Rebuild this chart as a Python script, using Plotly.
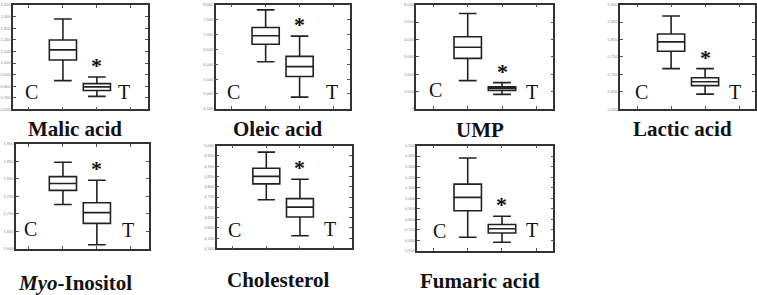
import plotly.graph_objects as go

W, H = 757, 295

# ---- data (box summary statistics, arbitrary relative units) ----
names = ["Malic acid", "Oleic acid", "UMP", "Lactic acid",
         "<i>Myo</i>-Inositol", "Cholesterol", "Fumaric acid"]
# [lower whisker, Q1, median, Q3, upper whisker]
ctrl = [
    [0.848, 1.026, 1.113, 1.198, 1.379],
    [6.085, 6.669, 6.956, 7.231, 7.825],
    [1625, 2910, 3550, 4155, 5491],
    [0.7163, 0.7661, 0.7931, 0.8156, 0.8674],
    [1.7267, 1.7669, 1.7865, 1.8062, 1.8475],
    [4.737, 4.814, 4.850, 4.890, 4.968],
    [0.630, 0.882, 1.009, 1.134, 1.382],
]
treat = [
    [0.713, 0.763, 0.795, 0.823, 0.879],
    [4.896, 5.589, 5.919, 6.263, 6.943],
    [833, 1059, 1173, 1269, 1512],
    [0.6432, 0.6677, 0.6789, 0.6902, 0.7163],
    [1.6115, 1.6725, 1.7034, 1.7315, 1.7961],
    [4.562, 4.653, 4.701, 4.742, 4.836],
    [0.583, 0.671, 0.711, 0.751, 0.829],
]
group_labels = ["C", "T"]
y_ranges = [(0.6, 1.5), (4.5, 8.0), (0, 6000), (0.60, 0.90),
            (1.60, 1.90), (4.50, 5.00), (0.5, 1.5)]
y_dticks = [0.1, 0.5, 1000, 0.05, 0.05, 0.05, 0.1]
y_formats = [".3f", ".3f", ",d", ".3f", ".3f", ".3f", ".3f"]

# ---- layout geometry (pixels) ----
frames = [  # left, right, top, bottom
    (12, 147, 2, 108.3), (215, 349, 1.7, 107.7), (416, 553, 1.7, 107.7),
    (620, 755, 1.7, 108), (15, 148, 143.3, 250), (216, 351, 145, 249.7),
    (417, 553, 145, 252.3)]
xticks_px = [(28, 130), (231, 333), (433, 536), (637, 739),
             (28, 130), (232, 333), (433, 536)]
c_pos = [(31, 91), (233, 91), (435, 89), (641, 91), (30, 230), (234, 231), (439, 232)]
t_pos = [(123, 91), (331, 91), (532, 91), (735, 91), (127, 231), (329, 230), (532, 231)]
title_pos = [(74, 128), (277, 128), (480, 129), (682, 128), (74, 285), (277, 282), (480, 283)]

fig = go.Figure()
LINE = "#222222"
annotations = []
for i in range(7):
    ax = "" if i == 0 else str(i + 1)
    xref, yref = "x" + ax, "y" + ax
    for j, st in enumerate([ctrl[i], treat[i]]):
        fig.add_trace(go.Box(
            x=[j + 1], lowerfence=[st[0]], q1=[st[1]], median=[st[2]],
            q3=[st[3]], upperfence=[st[4]], xaxis=xref, yaxis=yref,
            width=0.8, whiskerwidth=0.65, fillcolor="white",
            line=dict(color=LINE, width=1.6), showlegend=False,
            hoverinfo="skip"))
    L, R, T, B = frames[i]
    t0, t3 = xticks_px[i]
    unit = (t3 - t0) / 3
    xr = [(L - t0) / unit, (R - t0) / unit]
    axis_common = dict(showline=True, linecolor="#333333", linewidth=1.5,
                       mirror="ticks", ticks="inside", ticklen=3,
                       tickcolor="#555555", showgrid=False, zeroline=False)
    fig.layout["xaxis" + ax] = dict(domain=[L / W, R / W], range=xr,
                                    tickvals=[0, 1, 2, 3], showticklabels=False,
                                    anchor=yref, **axis_common)
    fig.layout["yaxis" + ax] = dict(domain=[1 - B / H, 1 - T / H], range=list(y_ranges[i]),
                                    dtick=y_dticks[i], tick0=y_ranges[i][0],
                                    tickformat=y_formats[i], anchor=xref,
                                    tickfont=dict(size=4, color="#8a8a8a", family="Arial"),
                                    **axis_common)
    for (px, py), lab in zip([c_pos[i], t_pos[i]], group_labels):
        annotations.append(dict(text=lab, x=px / W, y=1 - py / H, xref="paper", yref="paper",
                                xanchor="center", yanchor="middle", showarrow=False,
                                font=dict(family="Liberation Serif", size=20, color="#111")))
    annotations.append(dict(text="<b>*</b>", x=2, y=treat[i][4], xref=xref, yref=yref,
                            xanchor="center", yanchor="bottom", showarrow=False, yshift=-3,
                            font=dict(family="Liberation Serif", size=22, color="#111")))
    tx, ty = title_pos[i]
    annotations.append(dict(text="<b>" + names[i] + "</b>", x=tx / W, y=1 - ty / H,
                            xref="paper", yref="paper", xanchor="center", yanchor="middle",
                            showarrow=False,
                            font=dict(family="Liberation Serif", size=21, color="#111")))

fig.update_layout(width=W, height=H, margin=dict(l=0, r=0, t=0, b=0),
                  paper_bgcolor="white", plot_bgcolor="white",
                  separators=",.", annotations=annotations)
fig.write_html("out.html", config={"displayModeBar": False},
               post_script="document.body.style.margin='0';")
